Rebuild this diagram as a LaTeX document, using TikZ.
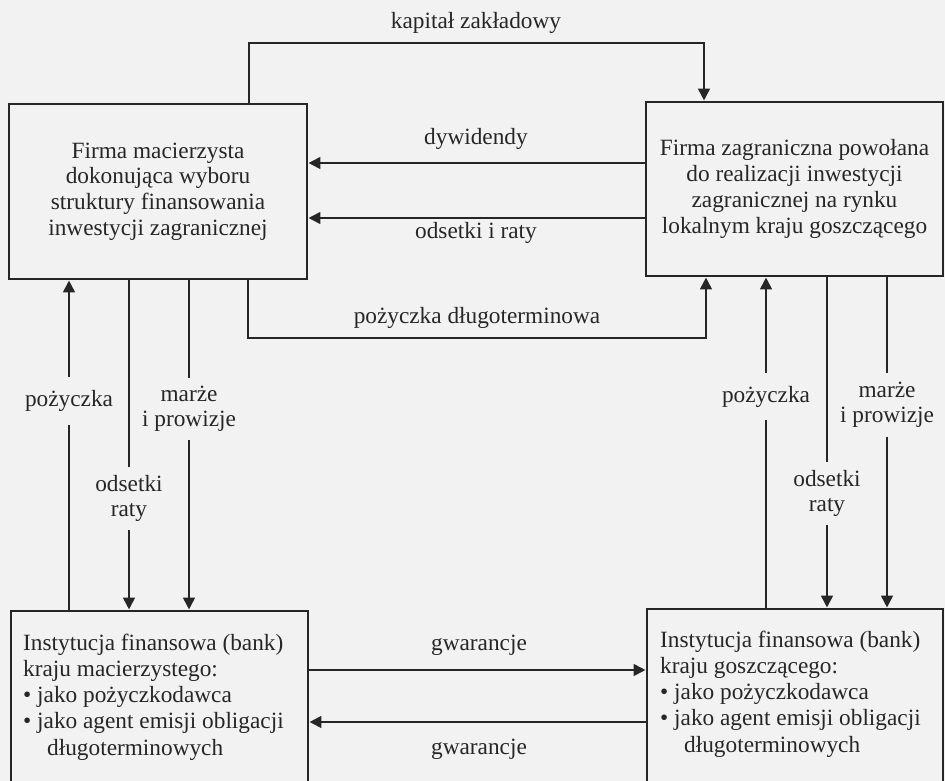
\documentclass[tikz,border=0pt]{standalone}
\usepackage{fontspec}
\setmainfont{Liberation Serif}
\usetikzlibrary{arrows.meta}
\definecolor{ink}{RGB}{38,38,38}
\definecolor{paper}{RGB}{242,242,242}

\begin{document}
\begin{tikzpicture}[x=1pt,y=-1pt,
  every node/.style={text=ink, font=\fontsize{23.3}{25.8}\selectfont},
  box/.style={draw=ink, line width=2.8pt, inner sep=0pt, align=center},
  flow/.style={draw=ink, line width=2.8pt},
  arr/.style={flow, -{Triangle[length=12pt,width=11.5pt]}},
  gap/.style={inner sep=0pt, align=center, font=\fontsize{23.3}{25}\selectfont},
  lbl/.style={anchor=base, inner sep=0pt},
  listtext/.style={anchor=north west, align=left, inner sep=0pt,
    font=\fontsize{23.3}{26.25}\selectfont},
]
\useasboundingbox (0,0) rectangle (945,781);
\fill[paper] (0,0) rectangle (945,781);
\clip (0,0) rectangle (945,781);

% --- firms ---
\node[box, minimum width=298pt, minimum height=175pt] (fm) at (158,191.5)
  {Firma macierzysta\\dokonująca wyboru\\struktury finansowania\\inwestycji zagranicznej};
\node[box, minimum width=297pt, minimum height=174pt] (fz) at (794.5,189)
  {Firma zagraniczna powołana\\do realizacji inwestycji\\zagranicznej na rynku\\lokalnym kraju goszczącego};

% --- banks (lower edge runs off the page) ---
\node[box, minimum width=297pt, minimum height=173pt] (bm) at (159.5,697.5) {};
\node[listtext] (bmt) at (23,633.5)
  {Instytucja finansowa (bank)\\kraju macierzystego:\\• jako pożyczkodawca\\• jako agent emisji obligacji\\\hspace*{24pt}długoterminowych};
\node[box, minimum width=296pt, minimum height=175pt] (bz) at (795,696.5) {};
\node[listtext] (bzt) at (660,630.5)
  {Instytucja finansowa (bank)\\kraju goszczącego:\\• jako pożyczkodawca\\• jako agent emisji obligacji\\\hspace*{24pt}długoterminowych};

% --- horizontal flow labels ---
\node[lbl] (tkz) at (476,29) {kapitał zakładowy};
\node[lbl] (tdy) at (476,145) {dywidendy};
\node[lbl] (tor) at (476,238) {odsetki i raty};
\node[lbl] (tpd) at (477,323) {pożyczka długoterminowa};
\node[lbl] (tg1) at (479,650) {gwarancje};
\node[lbl] (tg2) at (479,754) {gwarancje};

% --- vertical flow labels (they break the lines) ---
\node[gap, minimum height=48pt] (lpz) at (69,401) {pożyczka};
\node[gap, minimum height=63pt] (lor) at (129,498.5) {odsetki\\raty};
\node[gap, minimum height=62pt] (lmp) at (189,409) {marże\\i prowizje};
\node[gap, minimum height=47pt] (rpz) at (766,396.5) {pożyczka};
\node[gap, minimum height=63pt] (ror) at (827,493.5) {odsetki\\raty};
\node[gap, minimum height=64pt] (rmp) at (887,405) {marże\\i prowizje};

% --- flows between the firms ---
\coordinate (kz) at (476,43);
\draw[arr] (fm.north -| 249,0) |- (kz) -| (fz.north -| 704,0);
\draw[arr] (fz.west |- 0,163) -- (fm.east |- 0,163);
\draw[arr] (fz.west |- 0,218) -- (fm.east |- 0,218);
\coordinate (pd) at (476,338);
\draw[arr] (fm.south -| 248,0) |- (pd) -| (fz.south -| 706,0);

% --- home side ---
\draw[flow] (bm.north -| lpz) -- (lpz.south);
\draw[arr] (lpz.north) -- (fm.south -| lpz);
\draw[flow] (fm.south -| lor) -- (lor.north);
\draw[arr] (lor.south) -- (bm.north -| lor);
\draw[flow] (fm.south -| lmp) -- (lmp.north);
\draw[arr] (lmp.south) -- (bm.north -| lmp);

% --- host side ---
\draw[flow] (bz.north -| rpz) -- (rpz.south);
\draw[arr] (rpz.north) -- (fz.south -| rpz);
\draw[flow] (fz.south -| ror) -- (ror.north);
\draw[arr] (ror.south) -- (bz.north -| ror);
\draw[flow] (fz.south -| rmp) -- (rmp.north);
\draw[arr] (rmp.south) -- (bz.north -| rmp);

% --- guarantees between the banks ---
\draw[arr] (bm.east |- 0,670) -- (bz.west |- 0,670);
\draw[arr] (bz.west |- 0,722) -- (bm.east |- 0,722);
\end{tikzpicture}
\end{document}
